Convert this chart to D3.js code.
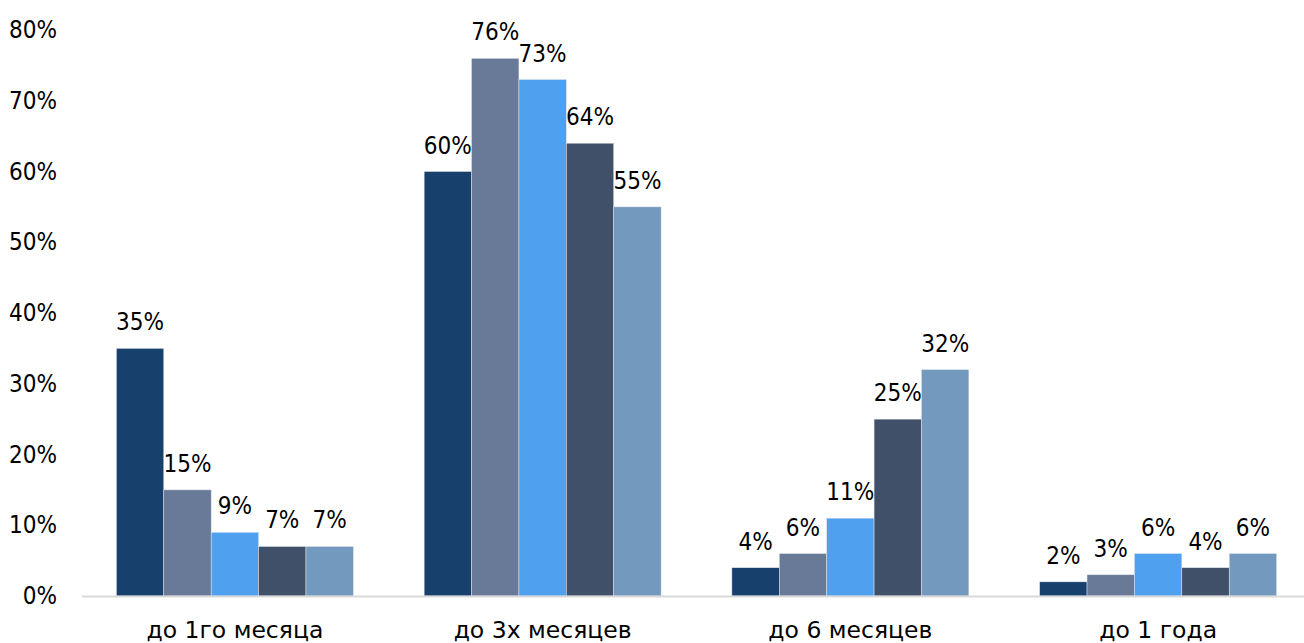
<!DOCTYPE html>
<html>
<head>
<meta charset="utf-8">
<script src="https://cdn.jsdelivr.net/npm/d3@7"></script>
<style>
  body { margin: 0; background: #fff; }
  text { font-family: "DejaVu Sans Condensed", "DejaVu Sans", sans-serif; fill: #000; }
  text.cat { font-family: "DejaVu Sans", sans-serif; }
</style>
</head>
<body>
<div id="chart-area"></div>
<script>
/***** Data *****/
const categories = ["до 1го месяца", "до 3х месяцев", "до 6 месяцев", "до 1 года"];
const seriesNames = ["s1", "s2", "s3", "s4", "s5"];
const seriesColors = ["#17406d", "#697a98", "#4fa1f0", "#3f5068", "#7399be"];
const values = [
  [35, 15, 9, 7, 7],
  [60, 76, 73, 64, 55],
  [4, 6, 11, 25, 32],
  [2, 3, 6, 4, 6]
];
const yTicks = [0, 10, 20, 30, 40, 50, 60, 70, 80];

/***** Layout *****/
const W = 1304, H = 643;
const svg = d3.select("#chart-area").append("svg")
  .attr("width", W).attr("height", H);

const x0 = d3.scaleBand().domain(categories).range([81, 1312])
  .paddingInner(0.23).paddingOuter(0.115);
const x1 = d3.scaleBand().domain(seriesNames).range([0, x0.bandwidth()]);
const y = d3.scaleLinear().domain([0, 80]).range([596, 30]);

// y labels (no axis line)
svg.append("g").selectAll("text").data(yTicks).join("text")
  .attr("x", 57).attr("y", d => y(d))
  .attr("text-anchor", "end").attr("dominant-baseline", "central")
  .style("font-size", "24px")
  .text(d => d + "%");

// bars
const groups = svg.append("g").selectAll("g").data(categories).join("g")
  .attr("transform", c => `translate(${x0(c)},0)`);

groups.selectAll("rect")
  .data((c, i) => values[i].map((v, j) => ({ v, s: seriesNames[j], j })))
  .join("rect")
  .attr("x", d => x1(d.s)).attr("width", x1.bandwidth())
  .attr("y", d => y(d.v)).attr("height", d => y(0) - y(d.v))
  .attr("fill", d => seriesColors[d.j])
  .attr("stroke", "#dfe6ee").attr("stroke-width", 0.5);

groups.selectAll("text.lbl")
  .data((c, i) => values[i].map((v, j) => ({ v, s: seriesNames[j] })))
  .join("text").attr("class", "lbl")
  .attr("x", d => x1(d.s) + x1.bandwidth() / 2)
  .attr("y", d => y(d.v) - 18)
  .attr("text-anchor", "middle")
  .style("font-size", "24px")
  .text(d => d.v + "%");

// x axis line + category labels
svg.append("line")
  .attr("x1", 82).attr("x2", W).attr("y1", 596.5).attr("y2", 596.5)
  .attr("stroke", "#d9d9d9").attr("stroke-width", 2);

svg.append("g").selectAll("text").data(categories).join("text")
  .attr("class", "cat")
  .attr("x", c => x0(c) + x0.bandwidth() / 2).attr("y", 638)
  .attr("text-anchor", "middle")
  .style("font-size", "23.5px")
  .text(c => c);
</script>
</body>
</html>
